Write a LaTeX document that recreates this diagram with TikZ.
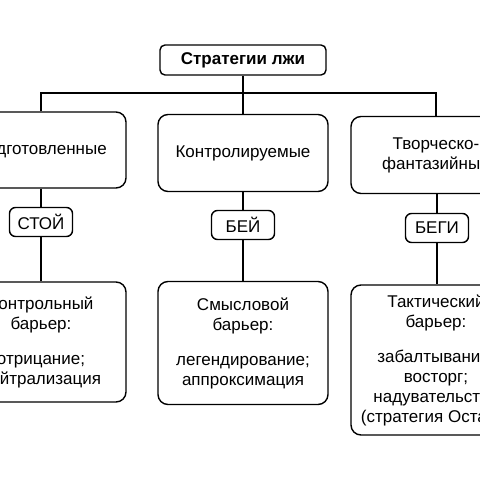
\documentclass[tikz,border=0pt]{standalone}
\usepackage{fontspec}
\setmainfont{Liberation Sans}
\usetikzlibrary{positioning}

\begin{document}
\begin{tikzpicture}[x=1pt, y=-1pt,
    every node/.style={font=\fontsize{17}{20}\selectfont},
    bigbox/.style={draw, line width=1.4pt, rounded corners=10pt, align=center,
        inner sep=0pt, minimum width=170pt},
    tagbox/.style={draw, line width=1.4pt, rounded corners=6pt, inner sep=0pt,
        minimum width=63pt, minimum height=29pt},
    link/.style={line width=1.4pt}]
    % Frame of the picture
    \useasboundingbox (0,0) rectangle (480,480);
    \clip (0,0) rectangle (480,480);

    % Title
    \node[draw, line width=1.4pt, rounded corners=5pt, minimum width=166pt,
        minimum height=30pt, inner sep=0pt, font=\fontsize{17}{20}\selectfont\bfseries]
        (title) at (243,60) {Стратегии лжи};

    % Strategies
    \node[bigbox, minimum height=76pt] (prep) at (41,150) {Подготовленные};
    \node[bigbox, minimum height=77pt] (ctrl) at (243,153) {Контролируемые};
    \node[bigbox, minimum height=77pt] (creat) at (436,155) {Творческо-\\фантазийные};

    % Reactions
    \node[tagbox] (stoy) at (41,222) {СТОЙ};
    \node[tagbox] (bey) at (243,225) {БЕЙ};
    \node[tagbox] (begi) at (437,228) {БЕГИ};

    % Barriers
    \node[bigbox, minimum height=120pt] (bar1) at (41,342)
        {Контрольный\\барьер:\\[15pt]отрицание;\\нейтрализация};
    \node[bigbox, minimum height=123pt] (bar2) at (243,343)
        {Смысловой\\барьер:\\[15pt]легендирование;\\аппроксимация};
    \node[bigbox, minimum height=150pt] (bar3) at (436,360)
        {Тактический\\барьер:\\[15pt]забалтывание;\\восторг;\\надувательство\\(стратегия Остапа)};

    % Connectors
    \coordinate (bus) at (243,93);
    \draw[link] (title) -- (ctrl);
    \draw[link] (prep.north) |- (bus) -| (creat.north);
    \draw[link] (prep) -- (stoy) -- (bar1);
    \draw[link] (ctrl) -- (bey) -- (bar2);
    \draw[link] (creat.south -| begi) -- (begi) -- (bar3.north -| begi);
\end{tikzpicture}
\end{document}
